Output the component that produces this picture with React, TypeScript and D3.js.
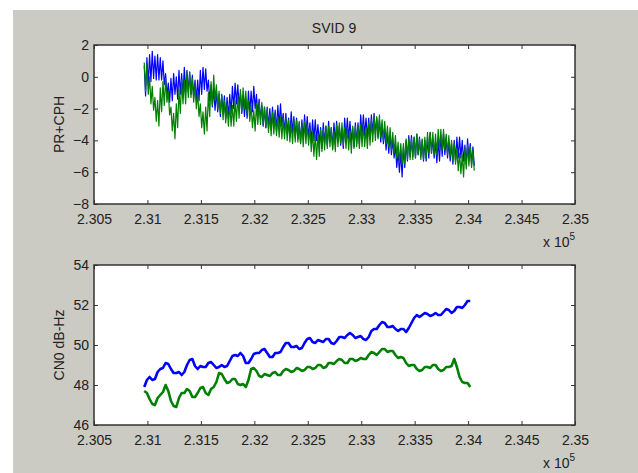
import * as d3 from 'd3';
import { useEffect, useRef } from 'react';

// time axis (x 10^5)
const xStart = 2.3097;
const prStep = 0.000125;
const cnStep = 0.00025;
const xTicks = [2.305, 2.31, 2.315, 2.32, 2.325, 2.33, 2.335, 2.34, 2.345, 2.35];
const xTickLabels = ['2.305', '2.31', '2.315', '2.32', '2.325', '2.33', '2.335', '2.34', '2.345', '2.35'];
const prTicks = [-8, -6, -4, -2, 0, 2];
const cnTicks = [46, 48, 50, 52, 54];

// PR+CPH, blue and green (noisy, read as high/low pairs)
const prBlue = [
  0.7, -1.2, 1.2, -0.5, 1.4, -0.3, 1.6, -0.1, 1.3, -0.2, 1.4, -0.2, 1.2, -0.2, 1.0, -0.5,
  0.2, -1.2, -0.4, -1.6, -0.1, -1.5, 0.2, -1.1, 0.0, -1.4, 0.4, -1.1, 0.2, -1.2, 0.6, -0.9,
  0.4, -1.0, 0.3, -1.1, 0.1, -1.3, -0.2, -1.5, -0.2, -1.5, 0.4, -1.1, 0.6, -0.8, 0.5, -0.9,
  -0.2, -1.5, -0.5, -1.9, -0.7, -2.1, -0.9, -2.2, -1.1, -2.5, -1.1, -2.3, -1.2, -2.6, -1.3, -2.6,
  -1.1, -2.3, -0.6, -2.0, -0.4, -1.7, -0.5, -1.8, -1.0, -2.3, -1.2, -2.5, -1.4, -2.6, -0.9, -2.3,
  -0.9, -2.2, -0.6, -2.0, -1.1, -2.4, -1.4, -2.7, -1.8, -3.1, -1.9, -3.2, -1.9, -3.2, -2.0, -3.3,
  -1.9, -3.1, -2.1, -3.4, -1.8, -3.1, -1.7, -3.1, -2.3, -3.5, -2.3, -3.6, -2.6, -3.8, -2.2, -3.5,
  -2.5, -3.8, -2.6, -3.9, -2.9, -4.2, -2.7, -3.9, -2.4, -3.7, -2.5, -3.8, -2.9, -4.1, -2.7, -4.0,
  -2.7, -4.0, -3.0, -4.2, -3.2, -4.5, -2.9, -4.2, -3.1, -4.3, -2.8, -4.1, -3.2, -4.5, -2.9, -4.2,
  -2.8, -4.1, -3.1, -4.3, -3.3, -4.5, -2.6, -3.9, -2.6, -3.9, -2.8, -4.1, -3.2, -4.4, -2.9, -4.2,
  -2.9, -4.2, -2.4, -3.7, -2.4, -3.7, -2.6, -3.9, -2.6, -3.9, -2.4, -3.6, -2.3, -3.6, -2.6, -3.8,
  -2.7, -4.1, -3.0, -4.2, -3.3, -4.6, -3.5, -4.8, -3.6, -4.9, -3.9, -5.1, -4.3, -5.7, -4.7, -6.0,
  -4.7, -6.3, -4.4, -5.7, -4.0, -5.3, -3.7, -5.0, -3.7, -5.0, -3.8, -5.1, -3.6, -4.9, -3.8, -5.0,
  -4.0, -5.3, -4.0, -5.3, -3.8, -5.1, -3.5, -4.8, -3.9, -5.1, -4.1, -5.4, -4.0, -5.3, -3.7, -5.0,
  -3.6, -4.9, -3.8, -5.1, -4.1, -5.3, -4.2, -5.5, -4.0, -5.3, -3.8, -5.1, -3.8, -5.1, -4.0, -5.3,
  -4.3, -5.5, -3.9, -5.2, -4.2, -5.5, -4.4, -5.6,
];
const prGreen = [
  0.9, -0.9, 0.8, -1.1, 0.0, -1.7, -0.6, -2.1, -1.3, -2.8, -1.5, -3.1, -0.7, -2.2, -0.3, -1.8,
  -0.1, -1.6, -0.9, -2.4, -1.9, -3.4, -2.3, -3.9, -1.7, -3.2, -0.8, -2.3, -0.2, -1.7, -0.2, -1.7,
  0.3, -1.3, 0.3, -1.3, -0.1, -1.6, -0.5, -2.0, -1.0, -2.5, -1.7, -3.2, -2.2, -3.6, -1.9, -3.4,
  -1.0, -2.5, -0.3, -1.8, 0.1, -1.5, -0.5, -2.0, -0.9, -2.3, -1.2, -2.7, -1.5, -2.9, -1.7, -3.1,
  -1.7, -3.1, -1.8, -3.1, -1.5, -2.8, -1.2, -2.6, -0.8, -2.2, -0.7, -2.0, -0.9, -2.3, -1.5, -2.8,
  -1.8, -3.2, -2.1, -3.4, -1.7, -3.0, -1.6, -3.0, -1.6, -3.0, -1.9, -3.2, -2.1, -3.5, -2.4, -3.7,
  -2.2, -3.6, -2.4, -3.7, -2.5, -3.8, -2.5, -3.9, -2.6, -3.9, -2.6, -4.0, -2.7, -4.1, -2.9, -4.2,
  -2.7, -4.1, -2.7, -4.1, -2.8, -4.2, -3.0, -4.4, -2.8, -4.2, -3.0, -4.3, -3.2, -4.7, -3.5, -5.0,
  -3.6, -5.2, -3.6, -5.0, -3.3, -4.7, -3.3, -4.6, -3.1, -4.5, -3.1, -4.4, -3.2, -4.6, -3.4, -4.7,
  -3.0, -4.4, -2.9, -4.2, -2.9, -4.3, -3.2, -4.5, -3.2, -4.6, -3.4, -4.8, -3.1, -4.5, -3.1, -4.4,
  -3.1, -4.5, -3.0, -4.4, -3.0, -4.4, -3.2, -4.5, -2.9, -4.3, -2.7, -4.1, -2.5, -4.0, -2.5, -3.9,
  -2.4, -3.8, -2.7, -4.0, -2.8, -4.2, -3.1, -4.4, -3.2, -4.6, -3.5, -4.8, -3.7, -5.1, -4.1, -5.4,
  -4.2, -5.5, -4.2, -5.5, -3.9, -5.2, -3.9, -5.2, -3.9, -5.2, -3.8, -5.1, -3.6, -4.9, -3.9, -5.2,
  -3.9, -5.2, -3.8, -5.1, -3.5, -4.8, -3.5, -4.8, -3.5, -4.9, -3.6, -4.9, -3.3, -4.6, -3.3, -4.6,
  -3.3, -4.6, -3.6, -4.9, -3.7, -5.0, -4.0, -5.3, -4.2, -5.5, -4.5, -5.9, -4.8, -6.1, -4.9, -6.3,
  -4.5, -5.8, -4.3, -5.6, -4.4, -5.7, -4.6, -5.9,
];

// CN0 dB-Hz, blue and green
const cnBlue = [
  47.9, 48.25, 48.4, 48.25, 48.3, 48.65, 48.8, 48.85, 49.1, 49.05, 48.8, 48.6, 48.6, 48.65, 48.5, 48.65,
  49.0, 49.25, 49.3, 48.95, 48.8, 48.95, 48.9, 48.9, 49.1, 49.15, 49.0, 48.85, 48.9, 49.0, 48.9, 48.95,
  49.2, 49.45, 49.5, 49.45, 49.6, 49.45, 49.1, 49.1, 49.3, 49.55, 49.6, 49.6, 49.75, 49.8, 49.6, 49.4,
  49.4, 49.6, 49.6, 49.65, 49.9, 50.1, 50.1, 49.9, 49.9, 49.95, 49.8, 49.85, 50.1, 50.3, 50.35, 50.15,
  50.1, 50.25, 50.2, 50.15, 50.3, 50.3, 50.1, 50.05, 50.2, 50.4, 50.4, 50.35, 50.5, 50.6, 50.5, 50.35,
  50.4, 50.45, 50.3, 50.25, 50.4, 50.7, 50.8, 50.8, 51.0, 51.15, 51.1, 50.9, 50.9, 50.95, 50.8, 50.7,
  50.8, 50.8, 50.65, 50.85, 51.1, 51.35, 51.5, 51.4, 51.5, 51.6, 51.55, 51.45, 51.5, 51.6, 51.5, 51.5,
  51.65, 51.8, 51.75, 51.6, 51.7, 51.9, 51.9, 51.85, 52.0, 52.2, 52.2,
];
const cnGreen = [
  47.7, 47.6, 47.3, 47.05, 47.0, 47.35, 47.5, 47.65, 48.0, 47.7, 47.2, 46.95, 46.9, 47.35, 47.6, 47.6,
  47.8, 47.7, 47.4, 47.4, 47.6, 47.85, 47.9, 47.6, 47.5, 47.8, 47.9, 48.15, 48.6, 48.55, 48.3, 48.1,
  48.15, 48.3, 48.3, 48.05, 48.0, 48.05, 47.9, 48.25, 48.8, 48.85, 48.7, 48.45, 48.4, 48.55, 48.5, 48.45,
  48.6, 48.65, 48.5, 48.5, 48.7, 48.8, 48.75, 48.65, 48.7, 48.85, 48.8, 48.7, 48.75, 48.9, 48.9, 48.8,
  48.85, 49.0, 49.0, 48.85, 48.9, 49.1, 49.1, 49.05, 49.2, 49.3, 49.25, 49.1, 49.1, 49.3, 49.3, 49.2,
  49.25, 49.35, 49.3, 49.3, 49.5, 49.65, 49.6, 49.5, 49.65, 49.8, 49.8, 49.65, 49.7, 49.7, 49.5, 49.35,
  49.4, 49.35, 49.1, 48.95, 49.0, 49.0, 48.8, 48.7, 48.75, 48.9, 48.9, 48.85, 49.0, 49.0, 48.8, 48.7,
  48.75, 48.9, 48.9, 48.95, 49.3, 48.9, 48.4, 48.15, 48.1, 48.1, 47.9,
];

const W = 638;
const H = 473;
const FONT = 'Liberation Sans, Arial, sans-serif';
const TXT = '#222';

function drawPanel(svg: any, top: number, bottom: number, yDomain: number[], yTicks: number[],
  series: { values: number[]; step: number; color: string; width: number }[], yLabel: string) {
  const left = 94, right = 575;
  const x = d3.scaleLinear().domain([2.305, 2.35]).range([left, right]);
  const y = d3.scaleLinear().domain(yDomain).range([bottom, top]);

  svg.append('rect').attr('x', left).attr('y', top).attr('width', right - left).attr('height', bottom - top)
    .attr('fill', '#fff');

  const clipId = 'clip' + top;
  svg.append('clipPath').attr('id', clipId).append('rect')
    .attr('x', left).attr('y', top).attr('width', right - left).attr('height', bottom - top);

  const g = svg.append('g').attr('clip-path', `url(#${clipId})`);
  series.forEach(s => {
    const line = d3.line<number>()
      .x((d, i) => x(xStart + i * s.step))
      .y(d => y(d));
    g.append('path').datum(s.values).attr('d', line).attr('fill', 'none')
      .attr('stroke', s.color).attr('stroke-width', s.width).attr('stroke-linejoin', 'round');
  });

  const styleAxis = (a: any) => {
    a.select('.domain').remove();
    a.selectAll('.tick line').attr('stroke', '#333');
    a.selectAll('text').attr('fill', TXT).attr('font-family', FONT).attr('font-size', 14);
  };

  svg.append('g').attr('transform', `translate(0,${bottom})`)
    .call(d3.axisBottom(x).tickValues(xTicks).tickFormat((d, i) => xTickLabels[i]).tickSize(-4).tickPadding(10))
    .call(styleAxis);
  svg.append('g').attr('transform', `translate(0,${top})`)
    .call(d3.axisTop(x).tickValues(xTicks).tickFormat(() => '').tickSize(-4))
    .call(styleAxis);
  svg.append('g').attr('transform', `translate(${left},0)`)
    .call(d3.axisLeft(y).tickValues(yTicks).tickFormat(d3.format('d')).tickSize(-4).tickPadding(5))
    .call(styleAxis);
  svg.append('g').attr('transform', `translate(${right},0)`)
    .call(d3.axisRight(y).tickValues(yTicks).tickFormat(() => '').tickSize(-4))
    .call(styleAxis);

  svg.append('rect').attr('x', left).attr('y', top).attr('width', right - left).attr('height', bottom - top)
    .attr('fill', 'none').attr('stroke', '#333').attr('stroke-width', 1.5);

  svg.append('text').attr('transform', `translate(64,${(top + bottom) / 2}) rotate(-90)`)
    .attr('text-anchor', 'middle').attr('font-family', FONT).attr('font-size', 14).attr('fill', TXT)
    .text(yLabel);

  const mult = svg.append('text').attr('x', 543).attr('y', bottom + 43)
    .attr('font-family', FONT).attr('font-size', 14).attr('fill', TXT);
  mult.append('tspan').text('x 10');
  mult.append('tspan').attr('dy', -7).attr('font-size', 10).text('5');
}

export default function App() {
  const ref = useRef<SVGSVGElement>(null);

  useEffect(() => {
    const svg = d3.select(ref.current);
    svg.selectAll('*').remove();

    svg.append('rect').attr('width', W).attr('height', H).attr('fill', '#fff');
    svg.append('rect').attr('x', 13).attr('y', 10).attr('width', W - 13).attr('height', H - 10)
      .attr('fill', '#cbcac3');

    svg.append('text').attr('x', 334).attr('y', 33).attr('text-anchor', 'middle')
      .attr('font-family', FONT).attr('font-size', 14).attr('fill', TXT).text('SVID 9');

    drawPanel(svg, 45, 204, [-8, 2], prTicks, [
      { values: prBlue, step: prStep, color: '#0000ff', width: 1.2 },
      { values: prGreen, step: prStep, color: '#008000', width: 1.2 },
    ], 'PR+CPH');

    drawPanel(svg, 265, 425, [46, 54], cnTicks, [
      { values: cnBlue, step: cnStep, color: '#0000ff', width: 2.6 },
      { values: cnGreen, step: cnStep, color: '#008000', width: 2.6 },
    ], 'CN0 dB-Hz');
  }, []);

  return (
    <div style={{ position: 'absolute', left: 0, top: 0 }}>
      <svg ref={ref} width={W} height={H} style={{ display: 'block' }}></svg>
    </div>
  );
}
